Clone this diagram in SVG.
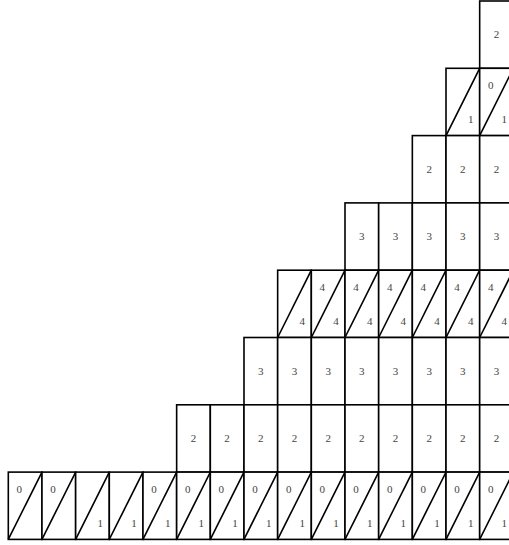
<svg xmlns="http://www.w3.org/2000/svg" width="509" height="545" viewBox="0 0 509 545">
<style>
.b{fill:#fff;stroke:#000;stroke-width:1.6}
.d{stroke:#000;stroke-width:1.6;fill:none}
.t{font-family:"Liberation Serif","DejaVu Serif",serif;font-size:11px;fill:#444;text-anchor:middle}
</style>
<defs>
<rect id="r" class="b" width="33.67" height="67.3"/>
<line id="dg" class="d" x1="0" y1="67.3" x2="33.67" y2="0"/>
</defs>
<rect width="509" height="545" fill="#fff"/>
<g id="cells">
<g id="r0c14" transform="translate(479.68,1)"><use href="#r"/><text class="t" x="16.8" y="37.4">2</text></g>
<g id="r1c13" transform="translate(446.01,68.3)"><use href="#r"/><use href="#dg"/><text class="t" x="24.7" y="54.5">1</text></g>
<g id="r1c14" transform="translate(479.68,68.3)"><use href="#r"/><use href="#dg"/><text class="t" x="11" y="20.7">0</text><text class="t" x="24.7" y="54.5">1</text></g>
<g id="r2c12" transform="translate(412.34,135.6)"><use href="#r"/><text class="t" x="16.8" y="37.4">2</text></g>
<g id="r2c13" transform="translate(446.01,135.6)"><use href="#r"/><text class="t" x="16.8" y="37.4">2</text></g>
<g id="r2c14" transform="translate(479.68,135.6)"><use href="#r"/><text class="t" x="16.8" y="37.4">2</text></g>
<g id="r3c10" transform="translate(345,202.9)"><use href="#r"/><text class="t" x="16.8" y="37.4">3</text></g>
<g id="r3c11" transform="translate(378.67,202.9)"><use href="#r"/><text class="t" x="16.8" y="37.4">3</text></g>
<g id="r3c12" transform="translate(412.34,202.9)"><use href="#r"/><text class="t" x="16.8" y="37.4">3</text></g>
<g id="r3c13" transform="translate(446.01,202.9)"><use href="#r"/><text class="t" x="16.8" y="37.4">3</text></g>
<g id="r3c14" transform="translate(479.68,202.9)"><use href="#r"/><text class="t" x="16.8" y="37.4">3</text></g>
<g id="r4c8" transform="translate(277.66,270.2)"><use href="#r"/><use href="#dg"/><text class="t" x="24.7" y="54.5">4</text></g>
<g id="r4c9" transform="translate(311.33,270.2)"><use href="#r"/><use href="#dg"/><text class="t" x="11" y="20.7">4</text><text class="t" x="24.7" y="54.5">4</text></g>
<g id="r4c10" transform="translate(345,270.2)"><use href="#r"/><use href="#dg"/><text class="t" x="11" y="20.7">4</text><text class="t" x="24.7" y="54.5">4</text></g>
<g id="r4c11" transform="translate(378.67,270.2)"><use href="#r"/><use href="#dg"/><text class="t" x="11" y="20.7">4</text><text class="t" x="24.7" y="54.5">4</text></g>
<g id="r4c12" transform="translate(412.34,270.2)"><use href="#r"/><use href="#dg"/><text class="t" x="11" y="20.7">4</text><text class="t" x="24.7" y="54.5">4</text></g>
<g id="r4c13" transform="translate(446.01,270.2)"><use href="#r"/><use href="#dg"/><text class="t" x="11" y="20.7">4</text><text class="t" x="24.7" y="54.5">4</text></g>
<g id="r4c14" transform="translate(479.68,270.2)"><use href="#r"/><use href="#dg"/><text class="t" x="11" y="20.7">4</text><text class="t" x="24.7" y="54.5">4</text></g>
<g id="r5c7" transform="translate(243.99,337.5)"><use href="#r"/><text class="t" x="16.8" y="37.4">3</text></g>
<g id="r5c8" transform="translate(277.66,337.5)"><use href="#r"/><text class="t" x="16.8" y="37.4">3</text></g>
<g id="r5c9" transform="translate(311.33,337.5)"><use href="#r"/><text class="t" x="16.8" y="37.4">3</text></g>
<g id="r5c10" transform="translate(345,337.5)"><use href="#r"/><text class="t" x="16.8" y="37.4">3</text></g>
<g id="r5c11" transform="translate(378.67,337.5)"><use href="#r"/><text class="t" x="16.8" y="37.4">3</text></g>
<g id="r5c12" transform="translate(412.34,337.5)"><use href="#r"/><text class="t" x="16.8" y="37.4">3</text></g>
<g id="r5c13" transform="translate(446.01,337.5)"><use href="#r"/><text class="t" x="16.8" y="37.4">3</text></g>
<g id="r5c14" transform="translate(479.68,337.5)"><use href="#r"/><text class="t" x="16.8" y="37.4">3</text></g>
<g id="r6c5" transform="translate(176.65,404.8)"><use href="#r"/><text class="t" x="16.8" y="37.4">2</text></g>
<g id="r6c6" transform="translate(210.32,404.8)"><use href="#r"/><text class="t" x="16.8" y="37.4">2</text></g>
<g id="r6c7" transform="translate(243.99,404.8)"><use href="#r"/><text class="t" x="16.8" y="37.4">2</text></g>
<g id="r6c8" transform="translate(277.66,404.8)"><use href="#r"/><text class="t" x="16.8" y="37.4">2</text></g>
<g id="r6c9" transform="translate(311.33,404.8)"><use href="#r"/><text class="t" x="16.8" y="37.4">2</text></g>
<g id="r6c10" transform="translate(345,404.8)"><use href="#r"/><text class="t" x="16.8" y="37.4">2</text></g>
<g id="r6c11" transform="translate(378.67,404.8)"><use href="#r"/><text class="t" x="16.8" y="37.4">2</text></g>
<g id="r6c12" transform="translate(412.34,404.8)"><use href="#r"/><text class="t" x="16.8" y="37.4">2</text></g>
<g id="r6c13" transform="translate(446.01,404.8)"><use href="#r"/><text class="t" x="16.8" y="37.4">2</text></g>
<g id="r6c14" transform="translate(479.68,404.8)"><use href="#r"/><text class="t" x="16.8" y="37.4">2</text></g>
<g id="r7c0" transform="translate(8.3,472.1)"><use href="#r"/><use href="#dg"/><text class="t" x="11" y="20.7">0</text></g>
<g id="r7c1" transform="translate(41.97,472.1)"><use href="#r"/><use href="#dg"/><text class="t" x="11" y="20.7">0</text></g>
<g id="r7c2" transform="translate(75.64,472.1)"><use href="#r"/><use href="#dg"/><text class="t" x="24.7" y="54.5">1</text></g>
<g id="r7c3" transform="translate(109.31,472.1)"><use href="#r"/><use href="#dg"/><text class="t" x="24.7" y="54.5">1</text></g>
<g id="r7c4" transform="translate(142.98,472.1)"><use href="#r"/><use href="#dg"/><text class="t" x="11" y="20.7">0</text><text class="t" x="24.7" y="54.5">1</text></g>
<g id="r7c5" transform="translate(176.65,472.1)"><use href="#r"/><use href="#dg"/><text class="t" x="11" y="20.7">0</text><text class="t" x="24.7" y="54.5">1</text></g>
<g id="r7c6" transform="translate(210.32,472.1)"><use href="#r"/><use href="#dg"/><text class="t" x="11" y="20.7">0</text><text class="t" x="24.7" y="54.5">1</text></g>
<g id="r7c7" transform="translate(243.99,472.1)"><use href="#r"/><use href="#dg"/><text class="t" x="11" y="20.7">0</text><text class="t" x="24.7" y="54.5">1</text></g>
<g id="r7c8" transform="translate(277.66,472.1)"><use href="#r"/><use href="#dg"/><text class="t" x="11" y="20.7">0</text><text class="t" x="24.7" y="54.5">1</text></g>
<g id="r7c9" transform="translate(311.33,472.1)"><use href="#r"/><use href="#dg"/><text class="t" x="11" y="20.7">0</text><text class="t" x="24.7" y="54.5">1</text></g>
<g id="r7c10" transform="translate(345,472.1)"><use href="#r"/><use href="#dg"/><text class="t" x="11" y="20.7">0</text><text class="t" x="24.7" y="54.5">1</text></g>
<g id="r7c11" transform="translate(378.67,472.1)"><use href="#r"/><use href="#dg"/><text class="t" x="11" y="20.7">0</text><text class="t" x="24.7" y="54.5">1</text></g>
<g id="r7c12" transform="translate(412.34,472.1)"><use href="#r"/><use href="#dg"/><text class="t" x="11" y="20.7">0</text><text class="t" x="24.7" y="54.5">1</text></g>
<g id="r7c13" transform="translate(446.01,472.1)"><use href="#r"/><use href="#dg"/><text class="t" x="11" y="20.7">0</text><text class="t" x="24.7" y="54.5">1</text></g>
<g id="r7c14" transform="translate(479.68,472.1)"><use href="#r"/><use href="#dg"/><text class="t" x="11" y="20.7">0</text><text class="t" x="24.7" y="54.5">1</text></g>
</g>
<g id="connectors"/>
</svg>
